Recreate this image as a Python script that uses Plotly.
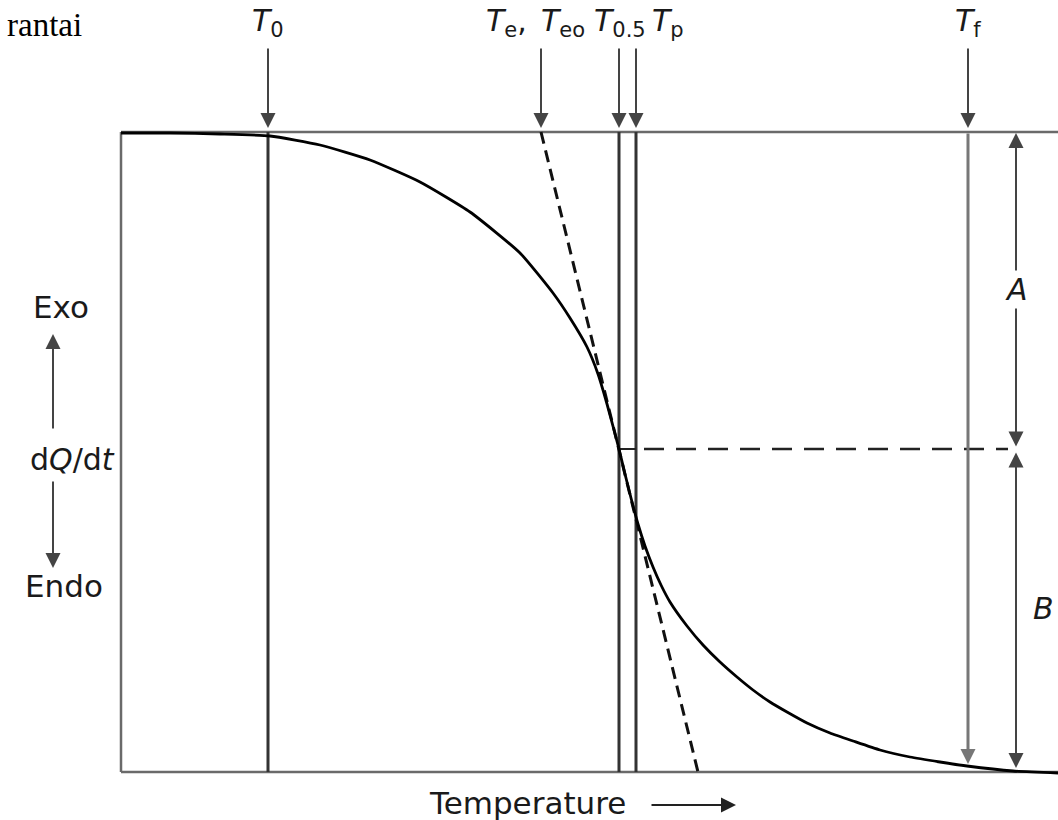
import plotly.graph_objects as go

# ---- data (in drawing units: x = temperature, y = heat-flow position, downward) ----
curve_T = [121, 170, 220, 270, 320, 370, 420, 470, 520, 553, 570, 587, 598, 607, 614, 619, 625, 631,
           638, 645, 653, 661, 670, 687, 703, 720, 737, 753, 770, 787, 807, 830, 853, 880, 910, 940,
           967, 1013, 1058]
curve_Q = [133, 133, 134, 136, 145, 160, 182, 212, 253, 293, 318, 347, 374, 404, 430, 449, 474, 498,
           524, 546, 567, 585, 602, 626, 645, 662, 677, 690, 702, 712, 723, 733, 741, 750, 757, 762,
           766, 771, 773]

T_left = 121
T_right = 1058
Q_top = 132
Q_bottom = 772
Q_half = 449

T0 = 268
Te = 541
T05 = 619
Tp = 636
Tf = 968
Te_tangent_end = 698
T_AB = 1016

label_y = 22
arrow_tail_y = 47
arrow_tip_y = 128

FONT = "DejaVu Sans"
TXT = "#1a1a1a"
fig = go.Figure()

# frame (top, bottom, left)
for xs, ys in [([T_left, T_right], [Q_top, Q_top]),
               ([T_left, T_right], [Q_bottom, Q_bottom]),
               ([T_left, T_left], [Q_top, Q_bottom])]:
    fig.add_trace(go.Scatter(x=xs, y=ys, mode="lines",
                             line=dict(color="#6a6a6a", width=2.5), hoverinfo="skip"))

# vertical marker lines
for t in [T0, T05, Tp]:
    fig.add_trace(go.Scatter(x=[t, t], y=[Q_top, Q_bottom], mode="lines",
                             line=dict(color="#333333", width=3), hoverinfo="skip"))

# tangent (dashed)
fig.add_trace(go.Scatter(x=[Te, Te_tangent_end], y=[Q_top, Q_bottom], mode="lines",
                         line=dict(color="#111111", width=3, dash="12px,7px"), hoverinfo="skip"))

# half-height dashed line
fig.add_trace(go.Scatter(x=[T05, Tp], y=[Q_half, Q_half], mode="lines",
                         line=dict(color="#222222", width=2), hoverinfo="skip"))
fig.add_trace(go.Scatter(x=[Tp + 8, T_AB - 8], y=[Q_half, Q_half], mode="lines",
                         line=dict(color="#222222", width=2.5, dash="20px,12px"), hoverinfo="skip"))

# DSC curve
fig.add_trace(go.Scatter(x=curve_T, y=curve_Q, mode="lines",
                         line=dict(color="#000000", width=2.8, shape="spline", smoothing=0.5),
                         hoverinfo="skip"))

ann = []

def arrow(x, y, ax, ay, color="#444444", width=2, side="end", size=1.5):
    ann.append(dict(x=x, y=y, ax=ax, ay=ay, xref="x", yref="y", axref="x", ayref="y",
                    text="", showarrow=True, arrowhead=2, arrowsize=size, arrowwidth=width,
                    arrowcolor=color, arrowside=side, startarrowhead=2, startarrowsize=size,
                    standoff=0, startstandoff=0))

# top arrows
for t in [T0, Te, T05, Tp, Tf]:
    arrow(t, arrow_tip_y, t, arrow_tail_y, color="#444444", width=2)

# Tf line with arrow down to curve
arrow(Tf, 764, Tf, Q_top, color="#777777", width=3, size=1.0)

# A and B dimension arrows
arrow(T_AB, Q_top + 1, T_AB, Q_half - 1, color="#444444", width=2, side="end+start")
arrow(T_AB, 768, T_AB, Q_half + 2, color="#444444", width=2, side="end+start")

# left Exo/Endo arrows
arrow(53, 334, 53, 430, color="#444444", width=2)
arrow(53, 568, 53, 480, color="#444444", width=2)
# temperature arrow
arrow(736, 805, 650, 805, color="#222222", width=2)

def label(x, y, text, size=30, font=FONT, xanchor="center", bg=None, color=TXT):
    d = dict(x=x, y=y, xref="x", yref="y", text=text, showarrow=False,
             font=dict(family=font, size=size, color=color), xanchor=xanchor, yanchor="middle")
    if bg:
        d["bgcolor"] = bg
    ann.append(d)

label(T0, label_y, "<i>T</i><sub>0</sub>")
label(506, label_y, "<i>T</i><sub>e</sub>,")
label(563, label_y, "<i>T</i><sub>eo</sub>")
label(620, label_y, "<i>T</i><sub>0.5</sub>")
label(668, label_y, "<i>T</i><sub>p</sub>")
label(Tf, label_y, "<i>T</i><sub>f</sub>")

label(T_AB, 289, "<i>A</i>", size=30, bg="white")
label(1043, 608, "<i>B</i>", size=30)

label(61, 307, "Exo", size=31)
label(72, 459, "d<i>Q</i>/d<i>t</i>", size=30)
label(64, 586, "Endo", size=31)
label(527, 803, "Temperature", size=31)

label(5, 25, "rantai", size=33, font="Liberation Serif", xanchor="left", color="#000000")

fig.update_layout(
    width=1058, height=820,
    margin=dict(l=0, r=0, t=0, b=0),
    paper_bgcolor="white", plot_bgcolor="white",
    showlegend=False,
    xaxis=dict(range=[0, 1058], visible=False, fixedrange=True),
    yaxis=dict(range=[820, 0], visible=False, fixedrange=True),
    annotations=ann,
)

fig.write_html("out.html")
